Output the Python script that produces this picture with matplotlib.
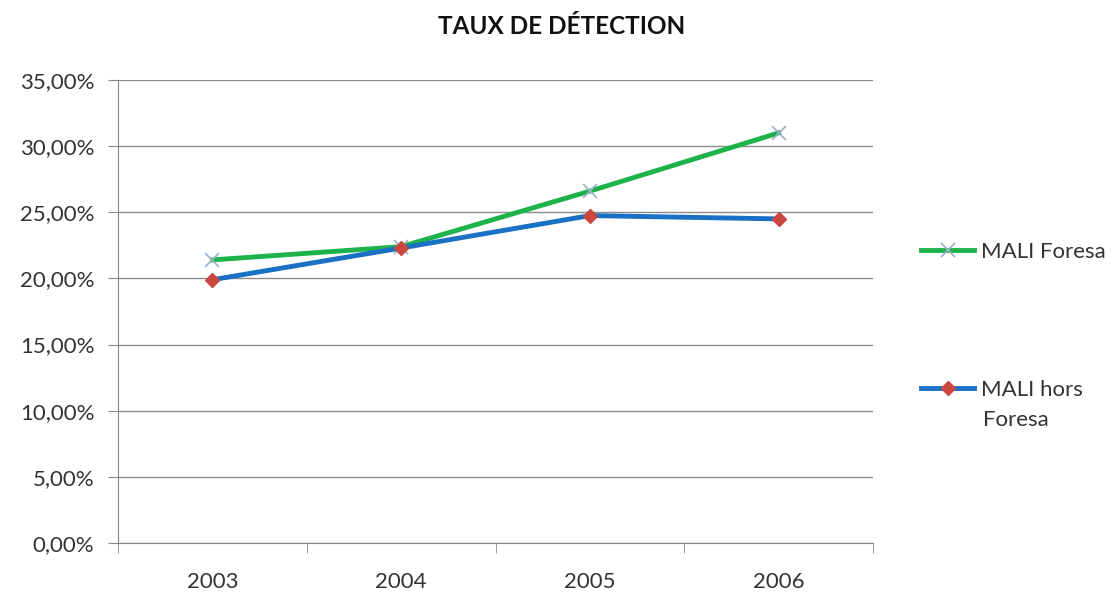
import matplotlib.pyplot as plt
from matplotlib.ticker import FuncFormatter

# données
annees = ['2003', '2004', '2005', '2006']
foresa = [21.4, 22.4, 26.6, 31.0]
hors_foresa = [19.9, 22.3, 24.75, 24.5]

plt.rcParams['font.family'] = ['Lato', 'DejaVu Sans']

fig = plt.figure(figsize=(11.19, 5.93), dpi=100)
ax = fig.add_axes([118 / 1119, 50 / 593, 755 / 1119, 463 / 593])

x = range(len(annees))
l1, = ax.plot(x, foresa, color='#1db34a', lw=3.5, marker='x', ms=10, mew=1.2,
              mec='#9bb0c8', label='MALI Foresa', zorder=3)
l2, = ax.plot(x, hors_foresa, color='#1a70c4', lw=3.5, marker='D', ms=7,
              mfc='#c9473f', mec='#c9473f', label='MALI hors', zorder=4)

ax.set_xlim(-0.5, 3.5)
ax.set_ylim(0, 35)
ax.set_yticks(range(0, 36, 5))
ax.yaxis.set_major_formatter(FuncFormatter(lambda v, p: f'{v:.2f}%'.replace('.', ',')))
ax.set_xticks(x)
ax.set_xticklabels(annees)
ax.set_xticks([-0.5, 0.5, 1.5, 2.5, 3.5], minor=True)
ax.tick_params(axis='x', which='major', length=0, pad=21, labelsize=16, colors='#333333')
ax.tick_params(axis='x', which='minor', length=7, color='#888888')
ax.tick_params(axis='y', length=7, color='#888888', labelsize=16, labelcolor='#333333', pad=10)

ax.grid(axis='y', color='#8c8c8c', lw=1)
ax.set_axisbelow(True)
for s in ['top', 'right']:
    ax.spines[s].set_visible(False)
for s in ['left', 'bottom']:
    ax.spines[s].set_color('#888888')

fig.text(562 / 1119, 1 - 26 / 593, 'TAUX DE DÉTECTION', ha='center', va='center',
         fontsize=17.5, fontweight='bold', color='#111111')

leg = fig.legend(handles=[l1, l2], loc='upper left', bbox_to_anchor=(921 / 1119, 1 - 242 / 593),
                 frameon=False, fontsize=16, labelspacing=5.3, handlelength=2.4,
                 handletextpad=0.3, labelcolor='#333333', borderaxespad=0, borderpad=0)
fig.text(983 / 1119, 1 - 420 / 593, 'Foresa', ha='left', va='center',
         fontsize=16, color='#333333')

fig.savefig('out.png', dpi=100)
